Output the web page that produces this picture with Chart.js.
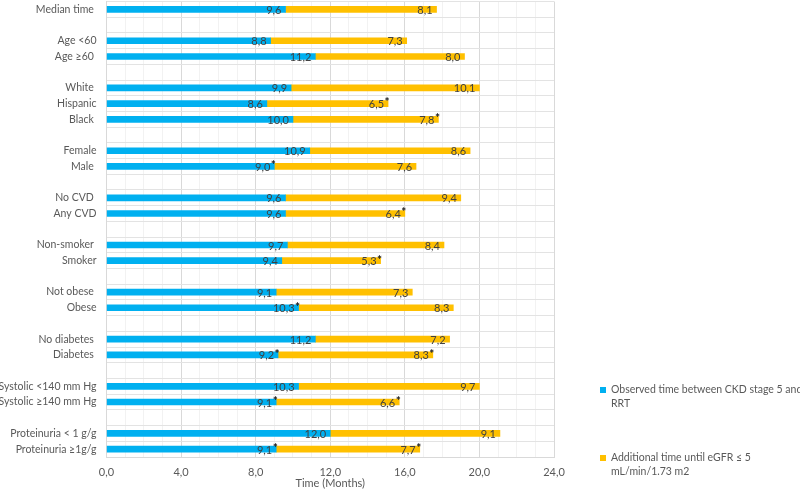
<!DOCTYPE html>
<html>
<head>
<meta charset="utf-8">
<script src="https://cdn.jsdelivr.net/npm/chart.js@4"></script>
<style>
html,body{margin:0;padding:0;background:#fff;}
#wrap{position:relative;width:800px;height:489px;}
</style>
</head>
<body>
<div id="wrap"><canvas id="c" width="800" height="489"></canvas></div>
<script>
const categories = [
  'Median time ', '', 'Age <60', 'Age ≥60 ', '',
  'White ', 'Hispanic', 'Black ', '',
  'Female', 'Male ', '',
  'No CVD ', 'Any CVD', '',
  'Non-smoker ', 'Smoker', '',
  'Not obese ', 'Obese', '',
  'No diabetes ', 'Diabetes ', '',
  'Systolic <140 mm Hg', 'Systolic ≥140 mm Hg', '',
  'Proteinuria < 1 g/g', 'Proteinuria ≥1g/g'
];
const observedTime = [
  9.6, null, 8.8, 11.2, null,
  9.9, 8.6, 10.0, null,
  10.9, 9.0, null,
  9.6, 9.6, null,
  9.7, 9.4, null,
  9.1, 10.3, null,
  11.2, 9.2, null,
  10.3, 9.1, null,
  12.0, 9.1
];
const additionalTime = [
  8.1, null, 7.3, 8.0, null,
  10.1, 6.5, 7.8, null,
  8.6, 7.6, null,
  9.4, 6.4, null,
  8.4, 5.3, null,
  7.3, 8.3, null,
  7.2, 8.3, null,
  9.7, 6.6, null,
  9.1, 7.7
];
// significance markers (asterisks) shown after the value labels
const observedSig = [
  '', '', '', '', '',
  '', '', '', '',
  '', '*', '',
  '', '', '',
  '', '', '',
  '', '*', '',
  '', '*', '',
  '', '*', '',
  '', '*'
];
const additionalSig = [
  '', '', '', '', '',
  '', '*', '*', '',
  '', '', '',
  '', '*', '',
  '', '*', '',
  '', '', '',
  '', '*', '',
  '', '*', '',
  '', '*'
];
const seriesNames = [
  ['Observed time between CKD stage 5 and', 'RRT'],
  ['Additional time until eGFR ≤ 5', 'mL/min/1.73 m2']
];
const xTicks = [0, 4, 8, 12, 16, 20, 24];
const xTitle = 'Time (Months)';

const FONT = 'Lato';
const BLUE = '#00B0F0';
const GOLD = '#FFC000';
const fmt = v => v.toFixed(1).replace('.', ',');

const labelPlugin = {
  id: 'valueLabels',
  afterDatasetsDraw(chart) {
    const ctx = chart.ctx;
    ctx.save();
    ctx.textBaseline = 'middle';
    const sigs = [observedSig, additionalSig];
    chart.data.datasets.forEach((ds, di) => {
      const meta = chart.getDatasetMeta(di);
      meta.data.forEach((bar, i) => {
        const v = ds.data[i];
        if (v === null || v === undefined) return;
        const t = fmt(v);
        const xEnd = bar.x - 4;
        ctx.font = '11px ' + FONT;
        ctx.fillStyle = '#404040';
        ctx.textAlign = 'right';
        ctx.fillText(t, xEnd, bar.y + 1);
        if (sigs[di][i]) {
          ctx.textAlign = 'left';
          ctx.font = 'bold 12px ' + FONT;
          ctx.fillStyle = '#111111';
          ctx.fillText(sigs[di][i], xEnd + 0.5, bar.y - 1);
        }
      });
    });
    ctx.restore();
  }
};

const legendPlugin = {
  id: 'sideLegend',
  afterDraw(chart) {
    const ctx = chart.ctx;
    ctx.save();
    ctx.font = '10.5px ' + FONT;
    ctx.textBaseline = 'middle';
    ctx.textAlign = 'left';
    const colors = [BLUE, GOLD];
    const ys = [390, 458];
    seriesNames.forEach((lines, k) => {
      ctx.fillStyle = colors[k];
      ctx.fillRect(600, ys[k] - 3, 6, 6);
      ctx.fillStyle = '#595959';
      lines.forEach((ln, j) => ctx.fillText(ln, 611, ys[k] + j * 13.5));
    });
    ctx.restore();
  }
};

new Chart(document.getElementById('c'), {
  type: 'bar',
  data: {
    labels: categories,
    datasets: [
      { label: seriesNames[0].join(' '), data: observedTime, backgroundColor: BLUE, barThickness: 6 },
      { label: seriesNames[1].join(' '), data: additionalTime, backgroundColor: GOLD, barThickness: 6 }
    ]
  },
  options: {
    indexAxis: 'y',
    responsive: false,
    animation: false,
    layout: { padding: { top: 1.5, right: 246, bottom: 0, left: 0 } },
    plugins: { legend: { display: false }, tooltip: { enabled: false } },
    scales: {
      x: {
        stacked: true,
        min: 0, max: 24,
        afterBuildTicks(scale) {
          const t = [];
          for (let v = 0; v <= 24; v++) t.push({ value: v });
          scale.ticks = t;
        },
        afterFit(scale) { scale.height = 32; scale.paddingLeft = 0; scale.paddingRight = 0; },
        ticks: {
          autoSkip: false, maxRotation: 0, padding: 9,
          color: '#595959', font: { family: FONT, size: 11 },
          callback: v => xTicks.includes(v) ? fmt(v) : ''
        },
        grid: {
          drawTicks: false,
          color: c => (xTicks.includes(c.tick && c.tick.value) ? '#D9D9D9' : '#F2F2F2')
        },
        border: { display: true, color: '#D9D9D9' },
        title: {
          display: true, text: xTitle, color: '#595959',
          font: { family: FONT, size: 11, lineHeight: 1.0 },
          padding: { top: 0, bottom: 0 }
        }
      },
      y: {
        stacked: true,
        afterFit(scale) { scale.width = 106.5; scale.paddingTop = 0; scale.paddingBottom = 0; },
        ticks: {
          autoSkip: false, padding: 10,
          color: '#595959', font: { family: FONT, size: 10.5 }
        },
        grid: { drawTicks: false, offset: true, color: '#E3E3E3' },
        border: { display: true, color: '#D9D9D9' }
      }
    }
  },
  plugins: [labelPlugin, legendPlugin]
});
</script>
</body>
</html>
